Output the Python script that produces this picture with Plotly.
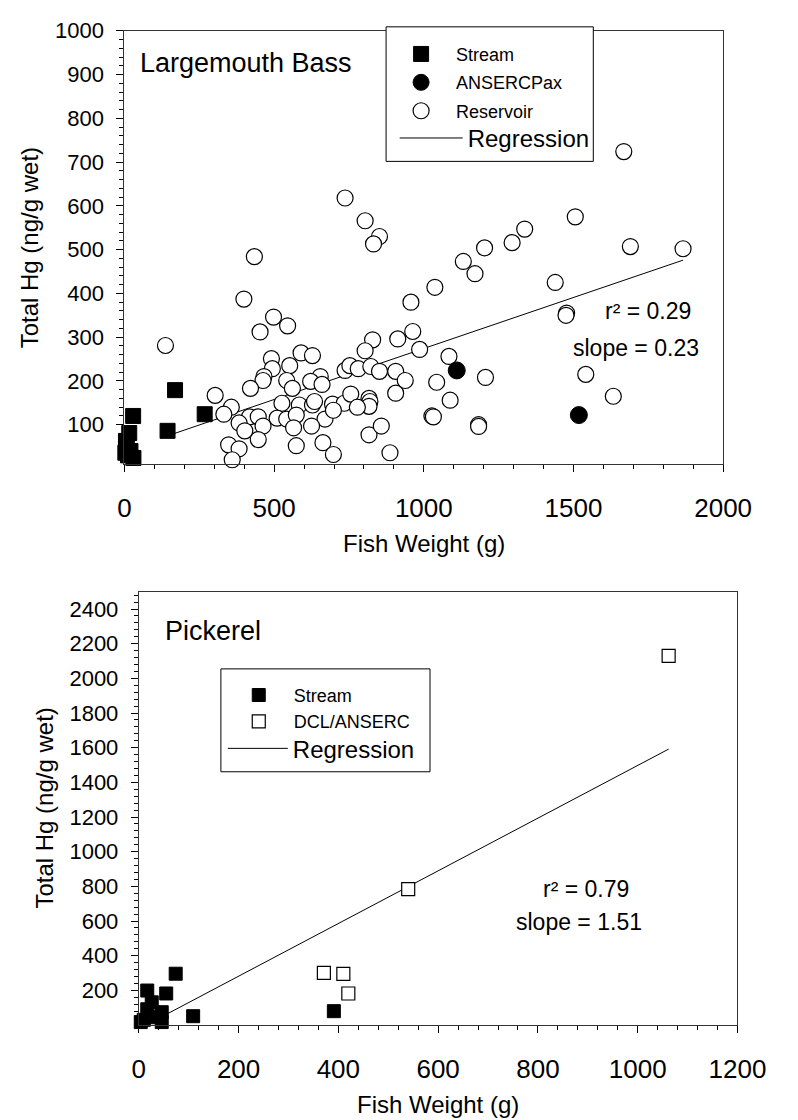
import plotly.graph_objects as go

W, H = 798, 1120
FONT = "Liberation Sans, Arial, sans-serif"

# ---------------- Largemouth Bass data ----------------
bass_stream_x = [169, 268, 144, 29, 16, 5, 8, 3, 30, 12, 20]
bass_stream_y = [179, 124, 86, 120, 81, 63, 48, 36, 24, 30, 40]

bass_anserc_x = [1110, 1518]
bass_anserc_y = [224, 122]

bass_res_x = [737, 804, 852, 832, 434, 1668, 1506, 1690, 1866, 1337, 1295, 1203,
              1132, 1171, 1037, 1439, 957, 1477, 1475, 913, 963, 986, 1084, 906,
              938, 906, 1043, 1206, 1541, 1633, 1088, 1027, 1032, 1183, 1183, 887,
              399, 137, 498, 545, 453, 829, 804, 590, 628, 491, 552, 494,
              737, 753, 781, 823, 852, 466, 463, 654, 622, 660, 542, 561,
              421, 303, 357, 332, 526, 584, 628, 635, 695, 734, 756, 817,
              820, 817, 778, 418, 447, 383, 510, 542, 574, 670, 698, 463,
              402, 565, 625, 447, 348, 383, 360, 574, 663, 698, 817, 858]
bass_res_y = [618, 566, 530, 513, 484, 724, 575, 507, 502, 547, 516, 504,
              473, 445, 414, 425, 380, 355, 350, 296, 313, 272, 256, 222,
              201, 172, 197, 208, 215, 165, 156, 120, 118, 100, 96, 36,
              387, 281, 346, 326, 312, 294, 269, 264, 258, 251, 235, 228,
              224, 235, 228, 233, 222, 210, 201, 210, 199, 192, 201, 183,
              183, 167, 140, 124, 149, 145, 145, 153, 147, 149, 170, 160,
              153, 142, 140, 118, 118, 104, 115, 113, 122, 113, 133, 97,
              86, 93, 97, 66, 54, 45, 20, 52, 59, 32, 77, 97]

bass_reg_x = [137, 1866]
bass_reg_y = [73, 476]

bass_xticks = [0, 500, 1000, 1500, 2000]
bass_yticks = [100, 200, 300, 400, 500, 600, 700, 800, 900, 1000]

# ---------------- Pickerel data ----------------
pick_stream_x = [74, 55, 109, 17, 26, 17, 46, 4, 46, 23, 10, 391]
pick_stream_y = [296, 182, 51, 199, 131, 91, 74, 17, 17, 45, 30, 80]

pick_dcl_x = [371, 410, 420, 540, 1062]
pick_dcl_y = [301, 295, 182, 784, 2130]

pick_reg_x = [20, 1062]
pick_reg_y = [8, 1592]

pick_xticks = [0, 200, 400, 600, 800, 1000, 1200]
pick_yticks = [200, 400, 600, 800, 1000, 1200, 1400, 1600, 1800, 2000, 2200, 2400]

# ---------------- figure ----------------
def fx(px):
    return px / W


def fy(py):
    return 1 - py / H


fig = go.Figure()

# top panel (draw order: line, reservoir, ANSERCPax, stream)
fig.add_trace(go.Scatter(x=bass_reg_x, y=bass_reg_y, mode="lines",
                         line=dict(color="black", width=1),
                         name="Regression", legend="legend3",
                         xaxis="x", yaxis="y"))
fig.add_trace(go.Scatter(x=bass_res_x, y=bass_res_y, mode="markers",
                         marker=dict(symbol="circle", size=16, color="white",
                                     line=dict(color="black", width=1.2)),
                         name="Reservoir", legendgroup="b3",
                         legend="legend", legendrank=3, cliponaxis=False,
                         xaxis="x", yaxis="y"))
fig.add_trace(go.Scatter(x=bass_anserc_x, y=bass_anserc_y, mode="markers",
                         marker=dict(symbol="circle", size=17, color="black",
                                     line=dict(color="black", width=1)),
                         name="ANSERCPax", legendgroup="b2",
                         legend="legend", legendrank=2, cliponaxis=False,
                         xaxis="x", yaxis="y"))
fig.add_trace(go.Scatter(x=bass_stream_x, y=bass_stream_y, mode="markers",
                         marker=dict(symbol="square", size=15, color="black",
                                     line=dict(color="black", width=1)),
                         name="Stream", legendgroup="b1",
                         legend="legend", legendrank=1, cliponaxis=False,
                         xaxis="x", yaxis="y"))

# bottom panel
fig.add_trace(go.Scatter(x=pick_reg_x, y=pick_reg_y, mode="lines",
                         line=dict(color="black", width=1),
                         name="Regression", legend="legend4",
                         xaxis="x2", yaxis="y2"))
fig.add_trace(go.Scatter(x=pick_dcl_x, y=pick_dcl_y, mode="markers",
                         marker=dict(symbol="square", size=13, color="white",
                                     line=dict(color="black", width=1.2)),
                         name="DCL/ANSERC", legendrank=2,
                         legend="legend2", cliponaxis=False,
                         xaxis="x2", yaxis="y2"))
fig.add_trace(go.Scatter(x=pick_stream_x, y=pick_stream_y, mode="markers",
                         marker=dict(symbol="square", size=13, color="black",
                                     line=dict(color="black", width=1)),
                         name="Stream", legendrank=1,
                         legend="legend2", cliponaxis=False,
                         xaxis="x2", yaxis="y2"))

axis_common = dict(showgrid=False, zeroline=False, showline=True, mirror=True,
                   linecolor="#333333", linewidth=1, ticks="outside", ticklen=7,
                   tickwidth=1, tickcolor="black", fixedrange=True)

legend_common = dict(xanchor="left", yanchor="top", bgcolor="rgba(0,0,0,0)",
                     borderwidth=0, itemclick=False, itemdoubleclick=False)
small_font = dict(family=FONT, size=18, color="black")
big_font = dict(family=FONT, size=24, color="black")

fig.update_layout(
    width=W, height=H,
    margin=dict(l=0, r=0, t=0, b=0),
    paper_bgcolor="white", plot_bgcolor="white",
    font=dict(family=FONT, color="black"),
    showlegend=True,
    xaxis=dict(domain=[fx(123), fx(750)], range=[0, 2000], anchor="y",
               tickvals=bass_xticks, ticklabelstandoff=14,
               tickfont=dict(size=26, family=FONT, color="black"),
               minor=dict(tickmode="linear", tick0=0, dtick=100, ticklen=4,
                          ticks="outside", tickcolor="black"),
               **axis_common),
    yaxis=dict(domain=[fy(457), fy(19)], range=[10, 1000], anchor="x",
               tickvals=bass_yticks, ticklabelstandoff=8,
               tickfont=dict(size=22, family=FONT, color="black"),
               minor=dict(tickmode="linear", tick0=0, dtick=20, ticklen=4,
                          ticks="outside", tickcolor="black"),
               **axis_common),
    xaxis2=dict(domain=[fx(138), fx(765)], range=[0, 1200], anchor="y2",
                tickvals=pick_xticks, ticklabelstandoff=14,
                tickfont=dict(size=26, family=FONT, color="black"),
                minor=dict(tickmode="linear", tick0=0, dtick=40, ticklen=4,
                           ticks="outside", tickcolor="black"),
                **axis_common),
    yaxis2=dict(domain=[fy(1024), fy(586)], range=[0, 2500], anchor="x2",
                tickvals=pick_yticks, ticklabelstandoff=8,
                tickfont=dict(size=22, family=FONT, color="black"),
                minor=dict(tickmode="linear", tick0=0, dtick=40, ticklen=4,
                           ticks="outside", tickcolor="black"),
                **axis_common),
    # top panel legend: marker entries + regression entry inside one frame
    legend=dict(x=fx(397), y=fy(24), itemwidth=60, font=small_font,
                tracegroupgap=2, **legend_common),
    legend3=dict(x=fx(406), y=fy(105), itemwidth=63, font=big_font,
                 **legend_common),
    # bottom panel legend
    legend2=dict(x=fx(227), y=fy(672), itemwidth=60, font=small_font,
                 **legend_common),
    legend4=dict(x=fx(226), y=fy(722), itemwidth=60, font=big_font,
                 **legend_common),
    shapes=[
        dict(type="rect", xref="paper", yref="paper",
             x0=fx(397), x1=fx(614), y0=fy(151), y1=fy(15),
             line=dict(color="black", width=1), fillcolor="white", layer="above"),
        dict(type="rect", xref="paper", yref="paper",
             x0=fx(224), x1=fx(443), y0=fy(768), y1=fy(664),
             line=dict(color="black", width=1), fillcolor="white", layer="above"),
    ],
)

annotations = [
    dict(text="Largemouth Bass", x=fx(137), y=fy(52), xanchor="left", yanchor="middle",
         font=dict(size=27)),
    dict(text="r\u00b2 = 0.29", x=fx(624), y=fy(302), xanchor="left", yanchor="middle",
         font=dict(size=23)),
    dict(text="slope = 0.23", x=fx(591), y=fy(340), xanchor="left", yanchor="middle",
         font=dict(size=23)),
    dict(text="Fish Weight (g)", x=fx(436.5), y=fy(537), xanchor="center", yanchor="middle",
         font=dict(size=24)),
    dict(text="Total Hg (ng/g wet)", x=fx(24), y=fy(238), xanchor="center", yanchor="middle",
         textangle=-90, font=dict(size=24)),
    dict(text="Pickerel", x=fx(163), y=fy(626), xanchor="left", yanchor="middle",
         font=dict(size=27)),
    dict(text="r\u00b2 = 0.79", x=fx(559), y=fy(887), xanchor="left", yanchor="middle",
         font=dict(size=23)),
    dict(text="slope = 1.51", x=fx(531), y=fy(920), xanchor="left", yanchor="middle",
         font=dict(size=23)),
    dict(text="Fish Weight (g)", x=fx(451.5), y=fy(1104), xanchor="center", yanchor="middle",
         font=dict(size=24)),
    dict(text="Total Hg (ng/g wet)", x=fx(39), y=fy(805), xanchor="center", yanchor="middle",
         textangle=-90, font=dict(size=24)),
]
for a in annotations:
    a.update(xref="paper", yref="paper", showarrow=False)
    a["font"].update(family=FONT, color="black")
fig.update_layout(annotations=annotations)

fig.write_html("out.html")
